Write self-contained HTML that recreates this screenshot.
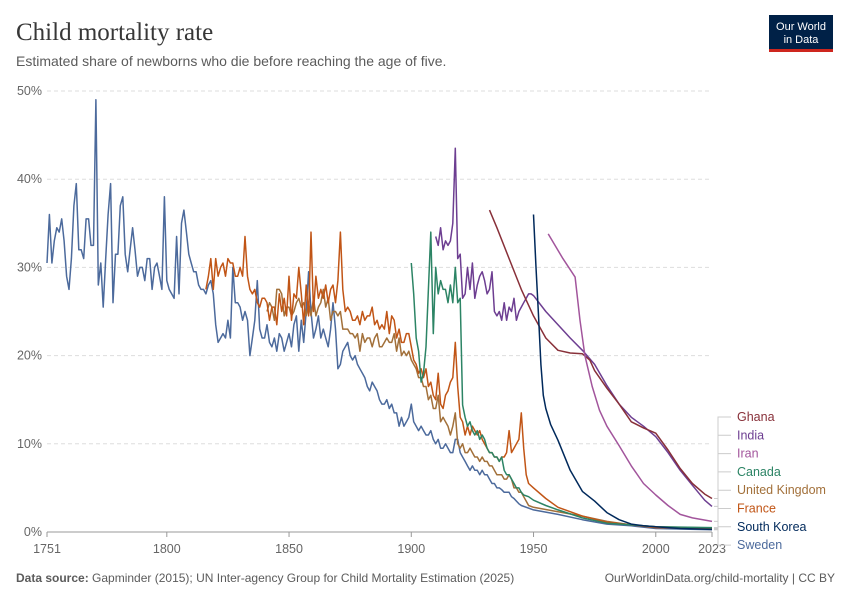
<!DOCTYPE html>
<html><head><meta charset="utf-8">
<style>
body{margin:0;background:#fff;font-family:"Liberation Sans",sans-serif;}
#wrap{position:relative;width:850px;height:600px;overflow:hidden;}
</style></head>
<body>
<div id="wrap">
<svg id="svg" width="850" height="600" xmlns="http://www.w3.org/2000/svg">
  <text x="16" y="40" font-family="Liberation Serif,serif" font-size="25" fill="#373737">Child mortality rate</text>
  <text x="16" y="66" font-size="14" fill="#5b5b5b">Estimated share of newborns who die before reaching the age of five.</text>
  <g>
    <rect x="769" y="15" width="64" height="35" fill="#002147"/>
    <rect x="769" y="49" width="64" height="3" fill="#ce261e"/>
    <text x="801" y="30" font-size="11" fill="#fff" text-anchor="middle">Our World</text>
    <text x="801" y="43" font-size="11" fill="#fff" text-anchor="middle">in Data</text>
  </g>
  <g id="grid"></g>
  <g id="xaxis"></g>
  <g id="series"></g>
  <g id="legend"></g>
  <text x="16" y="582" font-size="12" fill="#5b5b5b"><tspan font-weight="bold">Data source:</tspan> Gapminder (2015); UN Inter-agency Group for Child Mortality Estimation (2025)</text>
  <text x="835" y="582" font-size="12" fill="#5b5b5b" text-anchor="end">OurWorldinData.org/child-mortality | CC BY</text>
</svg>
</div>
<script>
const yTicks=[0,10,20,30,40,50];
const xTicks=[1751,1800,1850,1900,1950,2000,2023];
const seriesNames=["Ghana","India","Iran","Canada","United Kingdom","France","South Korea","Sweden"];
const swedenStart=1751;
const swedenAnnual=[30.5,36,30.5,33,34.5,34,35.5,33,29,27.5,31,37,39.5,32,32,31,35.5,35.5,32.5,32.5,49,28,30.5,25.5,31,36,39.5,26,31.5,31.5,37,38,31.5,29.5,32,34.5,32,29,30,30,28.5,31,31,27.5,30,30.5,29,27.5,38,28.5,27.5,27,26.5,33.5,27,35,36.5,34,31.5,30.5,29.5,29.5,28,27.5,27.5,27,28,28.5,27,23.5,21.5,22,22.5,22,24,22,30,26,26,25.5,24,25,24,20,22,24,28.5,23,22,22,23.5,21.5,21,22,20.5,22.5,22,20.5,21.5,22.5,21,23.5,24.5,20.5,24,21.5,25,29.5,25,22,23,24.5,22,23,22,21,23,26,23,18.5,19,20.5,21,21.5,20,19.5,20,19,18.5,18,17.5,16.5,16,17,16.5,16,15,14.5,14.5,15,14,14.5,13.5,13.5,12,13,12,12.5,13,14.5,12.5,12,11.5,12,11.5,11,11,11.5,10.5,10,10.5,9.5,9.5,10,9.5,9,9,10.5,10.5,9,8.5,8,7.5,7,7.5,7,7,6.5,7,6.5,6.5,6,5.5,5.5,5,5,4.8,4.5,4.5,4.5,4,3.8,3.5,3.2,3];
const swedenTailYears=[1950,1960,1970,1980,1990,2000,2023];
const swedenTail=[2.5,2,1.4,0.9,0.7,0.4,0.25];
const franceStart=1816;
const franceAnnual=[27.5,29,31,27.5,31,29,30,30.5,29,31,30.5,30.5,29,29,30,29,33.5,29,27.5,27,27.5,26,25.5,26.5,26.5,26,24,25.5,25.5,23.5,27,25,26.5,24.5,29,24,27,26.5,30,27,23.5,28,24.5,34,25,29,26.5,27.5,26.5,28,26,27.5,28,26,28.5,34,27.5,25,25.5,25,24,24,24.5,23.5,25,24,24.5,24.5,25.5,23.5,24,23,23.5,23,25,22.5,24.5,24,22,23,21.5,21.5,22.5,22.5,21,19.5,19,18,18.5,17.5,18.5,16.5,17,15.5,15,18,14.5,14,15.5,16,17,17.5,21.5,16.5,13,12.5,11,12,11,12,11.5,11,11.5,10.5,10,9.5,9,9,8.5,8.5,8,8.5,8.5,9,11.5,9,9.5,10,10.5,13.5,9.5,6.5,5.5];
const franceTailYears=[1950,1955,1960,1970,1980,1990,2000,2023];
const franceTail=[5,3.8,2.8,1.8,1.1,0.8,0.5,0.4];
const ukStart=1841;
const ukAnnual=[25,26,25.5,24,27.5,27.5,27,24.5,25.5,25.5,24.5,25,26,26.5,25.5,26,24.5,26,24.5,26.5,24.5,25.5,26,27.5,25.5,26.5,24,25,25,24.5,25,23,23,23,22.5,22.5,22,22.5,20.5,22.5,21.5,22,22,21,22,22.5,21,21,21.5,22,21.5,21.5,22.5,20.5,22,20,20.5,20,20.5,19.5,19,18.5,17.5,17.5,16.5,16.5,15,15.5,14,14,15.5,12.5,13,12.5,12,11,12,13.5,10,9.5,10,9,9,9.5,9,8.5,8.5,8,8.5,8,8,7.5,7.5,7,6.5,6.5,6.5,6,6,6.5,6,5,5,4.5,4.5,4,3.5,3];
const ukTailYears=[1950,1960,1970,1980,1990,2000,2023];
const ukTail=[2.8,2.3,1.8,1.2,0.8,0.6,0.45];
const canadaStart=1900;
const canadaAnnual=[30.5,27,22,20.5,17,18,21,27.5,34,22.5,30,27,28.5,27.5,27.5,26,28,26,30,26,26.5,14.4,13,12,12.5,11.5,11,11.5,10.5,11,10.5,9.5,9,9,8.5,8.5,8,8.5,7,6.5,6.5,6,5.5,5,5,4.5,4.2];
const canadaTailYears=[1948,1950,1955,1960,1970,1980,1990,2000,2023];
const canadaTail=[4,3.6,3,2.5,1.6,1,0.8,0.6,0.5];
const indiaStart=1910;
const indiaAnnual=[33.5,32.5,34.5,32,33,32.5,33,35,43.5,31,31.5,26.5,27,30,27.5,30.5,26.5,28,29,29.5,28.5,27,27.5,29.5,25,24.5,25,24,26,24,25.5,25,26.5,24,25,25.5,26,26.5,27,27];
const indiaTailYears=[1950,1955,1960,1965,1970,1975,1980,1985,1990,1995,2000,2005,2010,2015,2020,2023];
const indiaTail=[26.8,25,23.5,22,20.6,19,16.6,14.5,13,12,10.8,9,7,5.3,3.6,2.9];
const ghanaYears=[1932,1935,1940,1945,1950,1955,1960,1965,1970,1973,1975,1980,1985,1990,1995,2000,2005,2010,2015,2020,2023];
const ghanaValues=[36.5,34.5,31,27.5,24.5,22,20.6,20.3,20.2,19.5,18.3,16.3,14.5,12.5,11.8,11.2,9.3,7.2,5.5,4.3,3.8];
const iranYears=[1956,1962,1967,1969,1971,1974,1977,1980,1985,1990,1995,2000,2005,2010,2015,2023];
const iranValues=[33.8,31,28.9,24,20,16.5,13.8,12,9.8,7.5,5.5,4.2,3,2,1.6,1.2];
const koreaYears=[1950,1951,1952,1953,1954,1955,1957,1960,1965,1970,1975,1980,1985,1990,1995,2000,2010,2023];
const koreaValues=[36,30,24.8,19,15.5,14,12.2,10.4,7,4.6,3.5,2.2,1.4,0.9,0.7,0.6,0.4,0.3];

const X0=47,X1=712,Y0=532,Y50=91;
const x=yr=>X0+(yr-1751)*(X1-X0)/(2023-1751);
const y=v=>Y0-v*(Y0-Y50)/50;
const NS="http://www.w3.org/2000/svg";
function mk(tag,attrs,parent){const e=document.createElementNS(NS,tag);for(const k in attrs)e.setAttribute(k,attrs[k]);parent.appendChild(e);return e;}
function annual(start,vals,ty,tv){const pts=vals.map((v,i)=>[start+i,v]);ty.forEach((t,i)=>pts.push([t,tv[i]]));return pts;}
function pairs(ys,vs){return ys.map((t,i)=>[t,vs[i]]);}

const grid=document.getElementById('grid');
yTicks.forEach(t=>{
  if(t>0){const l=mk('line',{x1:X0,x2:X1,y1:y(t),y2:y(t),stroke:'#ddd','stroke-dasharray':'4,3'},grid);
  
  }
  const tx=mk('text',{x:42,y:y(t)+4,'font-size':12.5,fill:'#666','text-anchor':'end'},grid);
  tx.textContent=t+'%';
  
  
});
const xa=document.getElementById('xaxis');
const axl=mk('line',{x1:X0,x2:X1,y1:Y0,y2:Y0,stroke:'#999'},xa);


xTicks.forEach(t=>{
  const tk=mk('line',{x1:x(t),x2:x(t),y1:Y0,y2:Y0+5,stroke:'#999'},xa);
  
  
  const tx=mk('text',{x:x(t),y:553,'font-size':12.5,fill:'#666','text-anchor':'middle'},xa);
  tx.textContent=t;
  
  
});

const colors={"Ghana":"#883039","India":"#6d3e91","Iran":"#a2559c","Canada":"#2c8465","United Kingdom":"#a2703a","France":"#c15516","South Korea":"#00295b","Sweden":"#4c6a9c"};
const data={
 "Sweden":annual(swedenStart,swedenAnnual,swedenTailYears,swedenTail),
 "United Kingdom":annual(ukStart,ukAnnual,ukTailYears,ukTail),
 "France":annual(franceStart,franceAnnual,franceTailYears,franceTail),
 "Canada":annual(canadaStart,canadaAnnual,canadaTailYears,canadaTail),
 "India":annual(indiaStart,indiaAnnual,indiaTailYears,indiaTail),
 "Ghana":pairs(ghanaYears,ghanaValues),
 "Iran":pairs(iranYears,iranValues),
 "South Korea":pairs(koreaYears,koreaValues)
};
const sg=document.getElementById('series');
["Sweden","United Kingdom","France","Canada","India","Ghana","Iran","South Korea"].forEach(n=>{
  const d=data[n].map((p,i)=>(i?'L':'M')+x(p[0]).toFixed(1)+','+y(p[1]).toFixed(1)).join('');
  const p=mk('path',{d:d,fill:'none',stroke:colors[n],'stroke-width':1.5,'stroke-linejoin':'round'},sg);
  
  
});
const lg=document.getElementById('legend');
seriesNames.forEach((n,i)=>{
  const ly=417+i*18.3;
  const last=data[n][data[n].length-1];
  const c=mk('path',{d:`M${X1+2},${y(last[1]).toFixed(1)}H${718}V${ly}H${731}`,fill:'none',stroke:'#ccc','stroke-width':1},lg);
  
  
  const t=mk('text',{x:737,y:ly+4,'font-size':12.5,fill:colors[n]},lg);
  t.textContent=n;
  
  
});
</script>
</body></html>
